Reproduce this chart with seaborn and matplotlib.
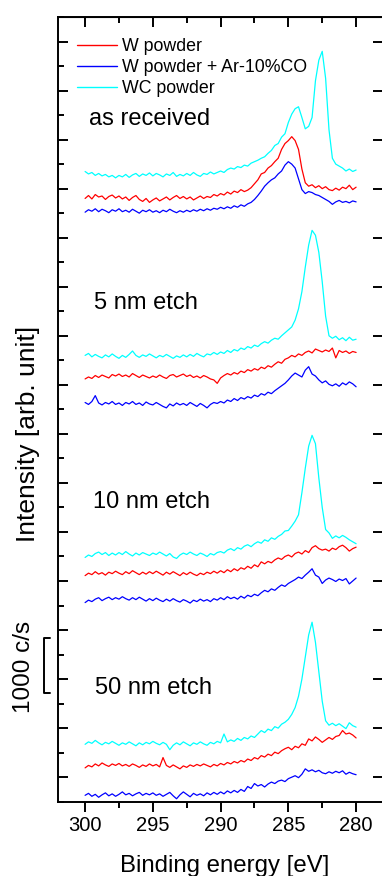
import numpy as np
import pandas as pd
import matplotlib
matplotlib.use("Agg")
import matplotlib.pyplot as plt
import matplotlib.transforms as mtransforms
from matplotlib.ticker import MultipleLocator, NullFormatter
import seaborn as sns

# ---- data -------------------------------------------------------------
# binding energy grid (eV), 0.25 eV steps from 300 down to 280
energy = np.linspace(300, 280, 81)

samples = ["W powder", "W powder + Ar-10%CO", "WC powder"]
panels = ["as received", "5 nm etch", "10 nm etch", "50 nm etch"]
colors = ["#ff0000", "#0000ff", "#00ffff"]

# stacked C1s intensities (1 unit = one major y tick)
recv_w = [11.80, 11.86, 11.79, 11.88, 11.83, 11.85, 11.78, 11.84, 11.87, 11.81,
          11.85, 11.79, 11.83, 11.76, 11.82, 11.86, 11.78, 11.74, 11.80, 11.72,
          11.77, 11.81, 11.75, 11.79, 11.83, 11.77, 11.82, 11.86, 11.80, 11.84,
          11.79, 11.83, 11.77, 11.81, 11.85, 11.80, 11.84, 11.82, 11.88, 11.85,
          11.90, 11.87, 11.93, 11.89, 11.95, 11.92, 11.98, 11.94, 11.97, 12.02,
          12.10, 12.18, 12.30, 12.33, 12.42, 12.47, 12.55, 12.62, 12.80, 12.92,
          12.98, 13.06, 12.98, 12.80, 12.40, 12.12, 12.05, 12.08, 12.02, 12.06,
          12.00, 12.04, 11.98, 11.96, 12.01, 11.97, 12.03, 12.00, 12.07, 11.98, 12.03]
recv_wco = [11.52, 11.57, 11.54, 11.59, 11.53, 11.58, 11.55, 11.51, 11.57, 11.54,
            11.59, 11.53, 11.56, 11.52, 11.58, 11.54, 11.50, 11.56, 11.53, 11.57,
            11.52, 11.55, 11.51, 11.56, 11.53, 11.58, 11.54, 11.51, 11.55, 11.52,
            11.56, 11.53, 11.57, 11.54, 11.58, 11.55, 11.59, 11.56, 11.60, 11.58,
            11.62, 11.59, 11.63, 11.60, 11.65, 11.62, 11.67, 11.64, 11.69, 11.72,
            11.78, 11.86, 11.95, 12.05, 12.12, 12.18, 12.22, 12.30, 12.36, 12.48,
            12.55, 12.50, 12.42, 12.20, 11.98, 11.90, 11.94, 11.92, 11.88, 11.86,
            11.82, 11.78, 11.74, 11.68, 11.73, 11.76, 11.72, 11.74, 11.71, 11.75, 11.73]
recv_wc = [12.35, 12.30, 12.33, 12.27, 12.31, 12.26, 12.29, 12.24, 12.27, 12.22,
           12.27, 12.24, 12.29, 12.23, 12.28, 12.31, 12.25, 12.30, 12.27, 12.32,
           12.26, 12.31, 12.28, 12.24, 12.30, 12.27, 12.33, 12.25, 12.29, 12.26,
           12.31, 12.27, 12.33, 12.28, 12.25, 12.31, 12.29, 12.34, 12.30, 12.33,
           12.36, 12.33, 12.39, 12.42, 12.40, 12.45, 12.43, 12.48, 12.46, 12.52,
           12.55, 12.58, 12.62, 12.65, 12.72, 12.78, 12.88, 12.92, 13.05, 13.12,
           13.35, 13.52, 13.63, 13.67, 13.45, 13.22, 13.27, 13.45, 14.20, 14.62,
           14.80, 14.25, 13.20, 12.62, 12.50, 12.46, 12.42, 12.36, 12.40, 12.35, 12.38]

etch5_w = [8.12, 8.16, 8.13, 8.19, 8.15, 8.20, 8.17, 8.14, 8.21, 8.18,
           8.22, 8.17, 8.20, 8.16, 8.23, 8.19, 8.15, 8.20, 8.17, 8.14,
           8.18, 8.15, 8.20, 8.16, 8.13, 8.19, 8.21, 8.16, 8.19, 8.22,
           8.17, 8.20, 8.15, 8.18, 8.14, 8.19, 8.16, 8.12, 8.10, 8.03,
           8.14, 8.19, 8.23, 8.20, 8.25, 8.22, 8.28, 8.25, 8.31, 8.28,
           8.33, 8.30, 8.36, 8.33, 8.39, 8.36, 8.42, 8.47, 8.44, 8.52,
           8.55, 8.60, 8.57, 8.63, 8.60, 8.66, 8.69, 8.65, 8.73, 8.70,
           8.67, 8.71, 8.68, 8.75, 8.55, 8.70, 8.66, 8.69, 8.64, 8.68, 8.66]
etch5_wco = [7.64, 7.60, 7.66, 7.78, 7.63, 7.59, 7.64, 7.61, 7.66, 7.60,
             7.63, 7.58, 7.64, 7.61, 7.66, 7.60, 7.63, 7.58, 7.65, 7.61,
             7.59, 7.64, 7.60, 7.56, 7.53, 7.61, 7.57, 7.63, 7.59, 7.62,
             7.58, 7.64, 7.60, 7.56, 7.62, 7.58, 7.53, 7.60, 7.64, 7.62,
             7.66, 7.63, 7.69, 7.66, 7.72, 7.68, 7.74, 7.71, 7.76, 7.73,
             7.79, 7.76, 7.82, 7.79, 7.85, 7.82, 7.88, 7.93, 7.98, 8.03,
             8.10, 8.18, 8.24, 8.20, 8.16, 8.30, 8.37, 8.22, 8.18, 8.10,
             8.04, 8.08, 8.01, 7.98, 8.02, 7.97, 8.04, 8.00, 8.06, 8.02, 7.96]
etch5_wc = [8.60, 8.64, 8.57, 8.62, 8.58, 8.55, 8.61, 8.57, 8.63, 8.58,
            8.54, 8.60, 8.56, 8.62, 8.69, 8.60, 8.56, 8.61, 8.58, 8.63,
            8.59, 8.55, 8.60, 8.57, 8.62, 8.58, 8.54, 8.59, 8.56, 8.61,
            8.57, 8.62, 8.58, 8.64, 8.60, 8.57, 8.63, 8.61, 8.66, 8.62,
            8.67, 8.64, 8.70, 8.66, 8.72, 8.69, 8.75, 8.72, 8.78, 8.75,
            8.81, 8.78, 8.84, 8.88, 8.85, 8.91, 8.95, 8.93, 9.00, 9.06,
            9.12, 9.18, 9.32, 9.55, 9.90, 10.40, 10.85, 11.15, 11.05, 10.70,
            10.10, 9.40, 9.00, 8.95, 8.99, 8.92, 8.96, 8.90, 8.97, 8.91, 8.93]

etch10_w = [4.11, 4.16, 4.13, 4.19, 4.14, 4.17, 4.12, 4.18, 4.15, 4.20,
            4.16, 4.13, 4.19, 4.15, 4.21, 4.17, 4.13, 4.18, 4.14, 4.19,
            4.15, 4.20, 4.16, 4.12, 4.18, 4.14, 4.19, 4.15, 4.11, 4.17,
            4.13, 4.18, 4.14, 4.11, 4.16, 4.13, 4.18, 4.15, 4.20, 4.16,
            4.21, 4.17, 4.23, 4.19, 4.25, 4.21, 4.27, 4.24, 4.30, 4.26,
            4.33, 4.29, 4.39, 4.35, 4.40, 4.37, 4.43, 4.47, 4.44, 4.50,
            4.53, 4.49, 4.56, 4.59, 4.55, 4.62, 4.58, 4.68, 4.72, 4.66,
            4.63, 4.65, 4.61, 4.67, 4.64, 4.70, 4.73, 4.68, 4.61, 4.66, 4.69]
etch10_wco = [3.56, 3.61, 3.58, 3.63, 3.66, 3.60, 3.64, 3.67, 3.62, 3.66,
              3.63, 3.68, 3.64, 3.61, 3.66, 3.62, 3.67, 3.63, 3.59, 3.64,
              3.60, 3.65, 3.61, 3.58, 3.63, 3.59, 3.64, 3.60, 3.57, 3.62,
              3.59, 3.55, 3.61, 3.58, 3.63, 3.59, 3.62, 3.58, 3.64, 3.61,
              3.66, 3.62, 3.68, 3.64, 3.67, 3.63, 3.69, 3.65, 3.71, 3.68,
              3.73, 3.70, 3.76, 3.81, 3.78, 3.84, 3.81, 3.87, 3.92, 3.89,
              3.95, 3.99, 4.03, 4.08, 4.05, 4.12, 4.18, 4.25, 4.12, 4.08,
              3.95, 4.02, 4.06, 4.03, 3.99, 4.04, 4.01, 4.05, 3.94, 4.00, 4.06]
etch10_wc = [4.48, 4.53, 4.50, 4.56, 4.59, 4.54, 4.58, 4.52, 4.57, 4.53,
             4.58, 4.54, 4.60, 4.55, 4.51, 4.57, 4.53, 4.58, 4.55, 4.52,
             4.57, 4.54, 4.59, 4.55, 4.51, 4.56, 4.49, 4.46, 4.53, 4.57,
             4.54, 4.59, 4.55, 4.52, 4.57, 4.54, 4.50, 4.56, 4.53, 4.58,
             4.60, 4.57, 4.63, 4.66, 4.62, 4.68, 4.65, 4.71, 4.74, 4.70,
             4.76, 4.80, 4.77, 4.84, 4.81, 4.88, 4.85, 4.91, 4.95, 5.02,
             5.03, 5.12, 5.22, 5.35, 5.80, 6.30, 6.75, 6.97, 6.80, 6.10,
             5.50, 5.05, 4.98, 4.87, 4.92, 4.88, 4.93, 4.89, 4.84, 4.80, 4.76]

etch50_w = [0.19, 0.24, 0.21, 0.27, 0.23, 0.29, 0.25, 0.22, 0.27, 0.24,
            0.28, 0.23, 0.26, 0.22, 0.27, 0.24, 0.20, 0.25, 0.22, 0.27,
            0.23, 0.26, 0.21, 0.40, 0.24, 0.20, 0.25, 0.21, 0.17, 0.23,
            0.20, 0.25, 0.22, 0.26, 0.23, 0.27, 0.24, 0.21, 0.26, 0.23,
            0.28, 0.25, 0.30, 0.27, 0.32, 0.29, 0.34, 0.31, 0.37, 0.34,
            0.40, 0.37, 0.44, 0.41, 0.47, 0.44, 0.51, 0.48, 0.54, 0.58,
            0.61, 0.56, 0.63, 0.60, 0.68, 0.65, 0.78, 0.74, 0.82, 0.77,
            0.71, 0.76, 0.81, 0.77, 0.83, 0.85, 0.95, 0.88, 0.90, 0.86, 0.80]
etch50_wco = [-0.37, -0.33, -0.39, -0.35, -0.41, -0.36, -0.32, -0.38, -0.34, -0.39,
              -0.35, -0.30, -0.36, -0.33, -0.38, -0.34, -0.31, -0.37, -0.33, -0.36,
              -0.32, -0.37, -0.34, -0.39, -0.35, -0.31, -0.38, -0.44, -0.36, -0.30,
              -0.35, -0.40, -0.33, -0.37, -0.34, -0.38, -0.32, -0.36, -0.31, -0.35,
              -0.30, -0.34, -0.28, -0.32, -0.27, -0.31, -0.25, -0.29, -0.19, -0.23,
              -0.13, -0.18, -0.15, -0.20, -0.14, -0.10, -0.13, -0.08, -0.06, -0.09,
              -0.03, 0.00, 0.03, -0.01, 0.06, 0.17, 0.12, 0.15, 0.11, 0.14,
              0.09, 0.07, 0.11, 0.08, 0.12, 0.09, 0.13, 0.06, 0.10, 0.07, 0.05]
etch50_wc = [0.67, 0.72, 0.69, 0.75, 0.70, 0.66, 0.71, 0.68, 0.73, 0.69,
             0.65, 0.70, 0.67, 0.72, 0.68, 0.64, 0.70, 0.66, 0.71, 0.68,
             0.73, 0.69, 0.66, 0.71, 0.67, 0.56, 0.65, 0.70, 0.66, 0.72,
             0.68, 0.64, 0.70, 0.67, 0.72, 0.68, 0.65, 0.71, 0.68, 0.73,
             0.70, 0.88, 0.72, 0.76, 0.73, 0.79, 0.75, 0.81, 0.78, 0.84,
             0.81, 0.88, 0.95, 0.91, 0.98, 0.95, 1.03, 1.00, 1.08, 1.12,
             1.18, 1.28, 1.42, 1.65, 2.00, 2.45, 2.90, 3.16, 2.75, 2.15,
             1.55, 1.15, 1.06, 1.10, 1.05, 1.09, 1.04, 0.99, 1.11, 1.05, 1.02]

# ---- long table for seaborn ---------------------------------------------
series = {
    "as received": [recv_w, recv_wco, recv_wc],
    "5 nm etch": [etch5_w, etch5_wco, etch5_wc],
    "10 nm etch": [etch10_w, etch10_wco, etch10_wc],
    "50 nm etch": [etch50_w, etch50_wco, etch50_wc],
}
rows = []
for panel in panels:
    for sample, vals in zip(samples, series[panel]):
        rows.append(pd.DataFrame({"energy": energy, "intensity": vals,
                                  "sample": sample, "panel": panel}))
df = pd.concat(rows, ignore_index=True)

# ---- plot ------------------------------------------------------------------
sns.set_style("ticks")
plt.rcParams['font.family'] = ['Liberation Sans', 'DejaVu Sans']
plt.rcParams.update({"text.color": "black", "axes.labelcolor": "black",
                     "axes.edgecolor": "black", "xtick.color": "black",
                     "ytick.color": "black"})

W, H = 382, 876
fig = plt.figure(figsize=(W / 100, H / 100), dpi=100)
ax = fig.add_axes([58 / W, (H - 801.7) / H, 325.2 / W, 784.7 / H])

sns.lineplot(data=df, x="energy", y="intensity", hue="sample", units="panel",
             estimator=None, hue_order=samples, palette=colors, linewidth=0.9,
             ax=ax)

ax.set_xlim(302, 278)
ax.set_ylim(-0.5, 15.5)
ax.set_xlabel("")
ax.set_ylabel("")

for s in ax.spines.values():
    s.set_visible(True)
    s.set_linewidth(1.4)
    s.set_color("black")

ax.xaxis.set_major_locator(MultipleLocator(5))
ax.xaxis.set_minor_locator(MultipleLocator(2.5))
ax.yaxis.set_major_locator(MultipleLocator(1))
ax.yaxis.set_minor_locator(MultipleLocator(0.5))
ax.yaxis.set_major_formatter(NullFormatter())
ax.tick_params(axis='x', which='both', direction='out', top=False, width=1.4,
               labelsize=14.5, pad=3, colors="black")
ax.tick_params(axis='x', which='major', length=7.2)
ax.tick_params(axis='x', which='minor', length=4)
ax.tick_params(axis='y', which='both', direction='in', left=True, right=True,
               width=1.4, labelleft=False, colors="black")
ax.tick_params(axis='y', which='major', length=7.2)
ax.tick_params(axis='y', which='minor', length=4, right=False)

# top ticks point inward, bottom ones outward
top = ax.secondary_xaxis('top')
top.xaxis.set_major_locator(MultipleLocator(5))
top.xaxis.set_minor_locator(MultipleLocator(2.5))
top.tick_params(axis='x', which='both', direction='in', labeltop=False,
                width=1.4, colors="black")
top.tick_params(axis='x', which='major', length=7.2)
top.tick_params(axis='x', which='minor', length=4)

# legend
old = ax.get_legend()
handles = old.legend_handles
labels = [t.get_text() for t in old.get_texts()]
old.remove()
for h in handles:
    h.set_linewidth(1.0)
ax.legend(handles, labels, loc="upper left", bbox_to_anchor=(0.0575, 0.9732),
          frameon=False, fontsize=12.8, handlelength=2.25, handletextpad=0.3,
          labelspacing=0.22, borderpad=0, borderaxespad=0)

# panel labels
label_pos = [(299.68, 13.30), (299.37, 9.55), (299.44, 5.48), (299.26, 1.69)]
for name, (lx, ly) in zip(panels, label_pos):
    ax.text(lx, ly, name, fontsize=17, ha="left", va="baseline")

# 1000 c/s scale bar left of the axis
tr = mtransforms.blended_transform_factory(fig.transFigure, ax.transData)
bx0, bx1 = 44 / W, 50 / W
y0, y1 = 1.72, 2.83
ax.plot([bx1, bx0, bx0, bx1], [y1, y1, y0, y0], color="black", lw=1.4,
        transform=tr, clip_on=False)
fig.text(30 / W, 1 - 666.7 / H, "1000 c/s", rotation=90, rotation_mode="anchor",
         ha="center", va="baseline", fontsize=17.5)

fig.text(35.3 / W, 1 - 434 / H, "Intensity [arb. unit]", rotation=90,
         rotation_mode="anchor", ha="center", va="baseline", fontsize=19)
fig.text(225 / W, (H - 871.7) / H, "Binding energy [eV]", ha="center",
         va="baseline", fontsize=17.3)

fig.savefig("out.png", dpi=100)
